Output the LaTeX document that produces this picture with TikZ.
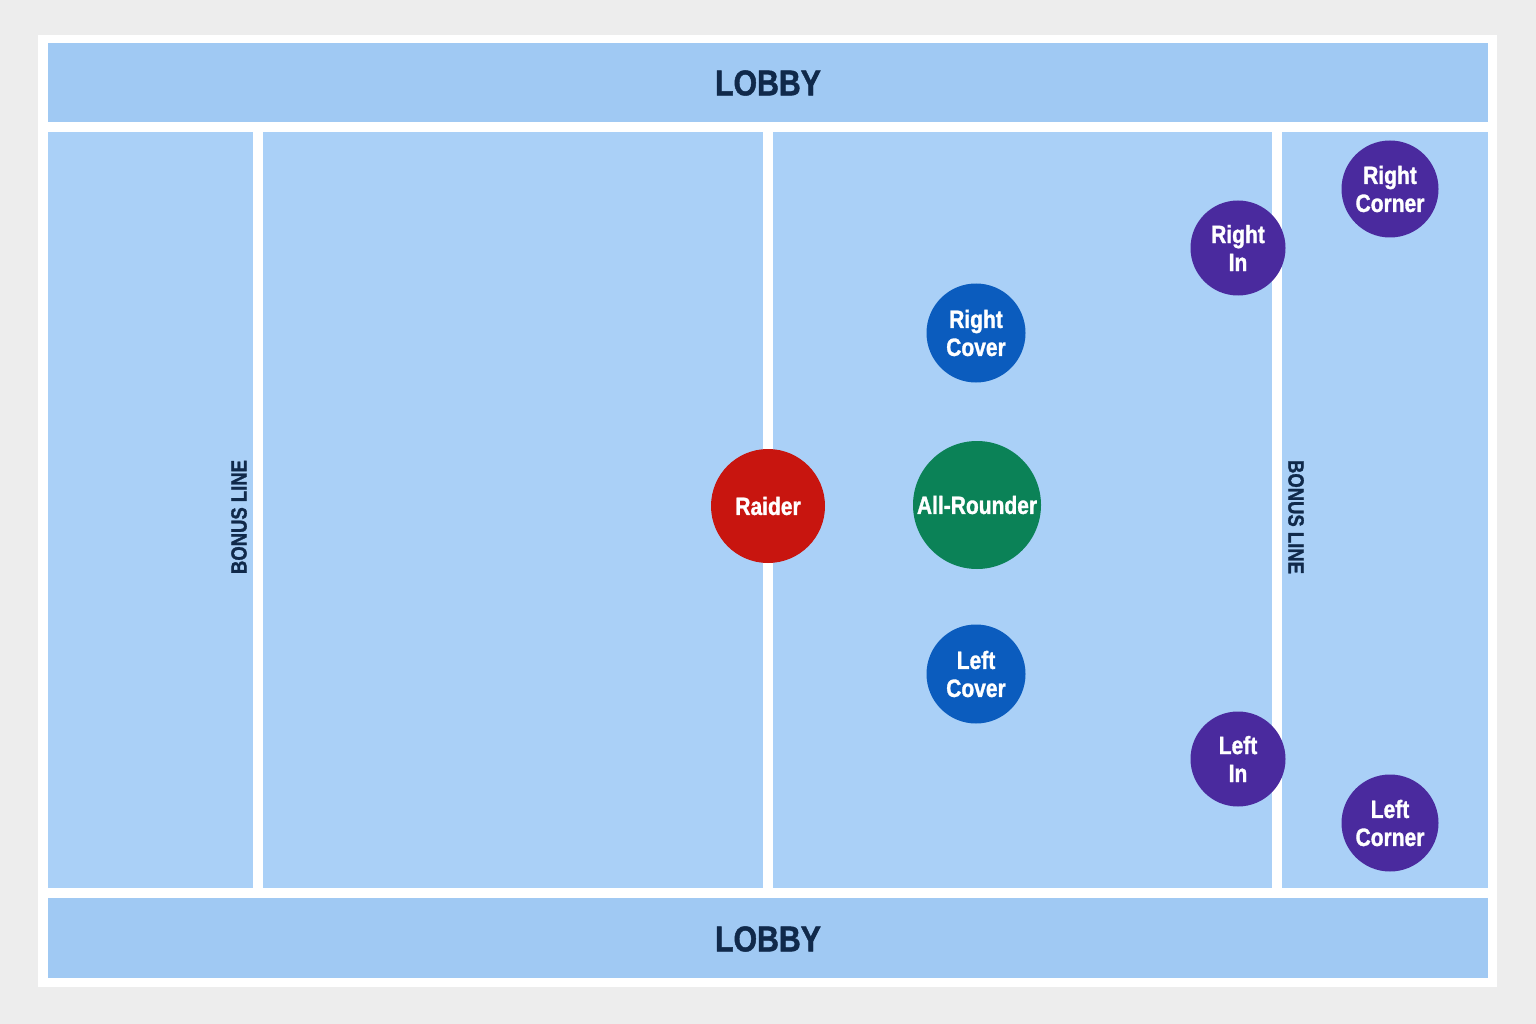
\documentclass[tikz,border=0pt]{standalone}
\usepackage{fontspec}
\newfontfamily\condfont{Liberation Sans}[FakeStretch=0.84, BoldFeatures={FakeBold=1.2}]
\definecolor{pagegray}{HTML}{EDEDED}
\definecolor{lobbyblue}{HTML}{A0C9F3}
\definecolor{courtblue}{HTML}{AAD0F7}
\definecolor{navy}{HTML}{10294A}
\definecolor{raidred}{HTML}{C8150F}
\definecolor{roundgreen}{HTML}{0B8257}
\definecolor{coverblue}{HTML}{0B5CBE}
\definecolor{cornerpurple}{HTML}{4A2A9E}
\begin{document}
\begin{tikzpicture}[x=1pt, y=-1pt,
    player/.style={circle, inner sep=0pt, text=white, align=center,
        font=\condfont\bfseries\fontsize{25}{28}\selectfont},
    courtline/.style={white, line width=9.5pt},
    zonelabel/.style={text=navy, font=\condfont\bfseries\fontsize{36}{36}\selectfont}]
    % page and frame
    \fill[pagegray] (0,0) rectangle (1536,1024);
    \fill[white] (38,35) rectangle (1497,987);
    \fill[lobbyblue] (48,43) rectangle (1488,122);
    \fill[courtblue] (48,132) rectangle (1488,888);
    \fill[lobbyblue] (48,898) rectangle (1488,978);

    \node[zonelabel] (lobbytop) at (768,83) {LOBBY};
    \node[zonelabel] (lobbybot) at (768,939) {LOBBY};

    % bonus lines and mid line
    \draw[courtline] (258,132) -- (258,888);
    \draw[courtline] (768,132) -- (768,888);
    \draw[courtline] (1277,132) -- (1277,888);

    \node[text=navy, rotate=90, font=\condfont\bfseries\fontsize{22}{22}\selectfont] (bonusleft) at (239,517) {BONUS LINE};
    \node[text=navy, rotate=-90, font=\condfont\bfseries\fontsize{22}{22}\selectfont] (bonusright) at (1296,517) {BONUS LINE};

    % players
    \node[player, fill=raidred, minimum size=114pt] (raider) at (768,506) {Raider};
    \node[player, fill=roundgreen, minimum size=128pt] (allrounder) at (977,505) {All-Rounder};
    \node[player, fill=coverblue, minimum size=99pt] (rcover) at (976,333) {Right\\Cover};
    \node[player, fill=coverblue, minimum size=99pt] (lcover) at (976,674) {Left\\Cover};
    \node[player, fill=cornerpurple, minimum size=95pt] (rin) at (1238,248) {Right\\In};
    \node[player, fill=cornerpurple, minimum size=95pt] (lin) at (1238,759) {Left\\In};
    \node[player, fill=cornerpurple, minimum size=97pt] (rcorner) at (1390,189) {Right\\Corner};
    \node[player, fill=cornerpurple, minimum size=97pt] (lcorner) at (1390,823) {Left\\Corner};
\end{tikzpicture}
\end{document}
